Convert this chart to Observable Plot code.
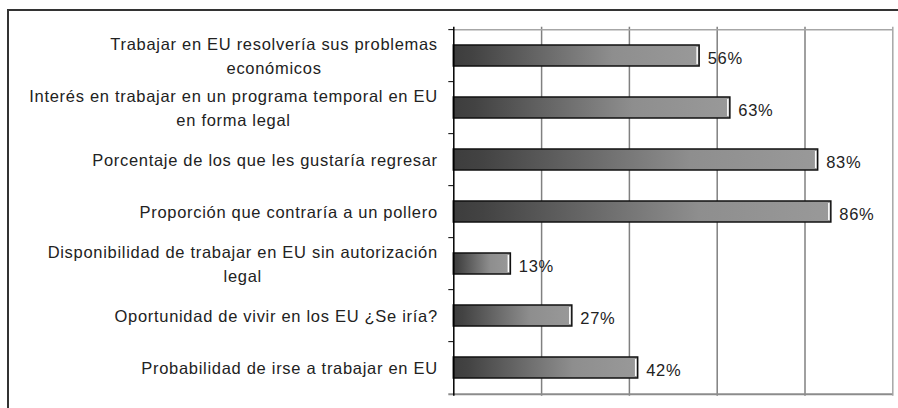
<!DOCTYPE html>
<html><head><meta charset="utf-8">
<script src="https://cdn.jsdelivr.net/npm/d3@7"></script>
<script src="https://cdn.jsdelivr.net/npm/@observablehq/plot@0.6"></script>
<style>
body{margin:0;background:#fff}
#wrap{position:relative;width:898px;height:408px;overflow:hidden;background:#fff}
#frame{position:absolute;left:7px;top:9px;width:2000px;height:2000px;border-top:2px solid #333;border-left:2px solid #333;pointer-events:none}
svg text{letter-spacing:0.7px}
</style></head><body><div id="wrap"><div id="frame"></div></div>
<script>
const categories = [
  "Trabajar en EU resolvería sus problemas\neconómicos",
  "Interés en trabajar en un programa temporal en EU\nen forma legal",
  "Porcentaje de los que les gustaría regresar",
  "Proporción que contraría a un pollero",
  "Disponibilidad de trabajar en EU sin autorización\nlegal",
  "Oportunidad de vivir en los EU ¿Se iría?",
  "Probabilidad de irse a trabajar en EU"
];
const values = [56, 63, 83, 86, 13, 27, 42];
const valueLabels = ["56%", "63%", "83%", "86%", "13%", "27%", "42%"];
const xGrid = [20, 40, 60, 80];
const xMax = 100;

const W = 898, H = 408, mT = 26.7, mB = 12.3, mL = 453.3, mR = 5.7;
const step = (H - mT - mB) / categories.length;
const data = categories.map((c, i) => ({category: c, value: values[i], label: valueLabels[i]}));
const font = "'Liberation Sans', Arial, sans-serif";

const chart = Plot.plot({
  width: W, height: H,
  marginTop: mT, marginBottom: mB, marginLeft: mL, marginRight: mR,
  x: {domain: [0, xMax], axis: null},
  y: {domain: categories, axis: null, paddingInner: 0.6, paddingOuter: 0.3},
  style: {background: "transparent", fontFamily: font, fontSize: "16.5px", color: "#222"},
  marks: [
    Plot.ruleX(xGrid, {stroke: "#808080", strokeWidth: 1.5}),
    Plot.ruleX([xMax], {stroke: "#a6a6a6", strokeWidth: 1.5}),
    Plot.ruleY([categories[0]], {y: d => d, x1: 0, x2: xMax, dy: -step / 2, stroke: "#a6a6a6", strokeWidth: 1.5}),
    Plot.barX(data, {x: "value", y: "category", fill: "url(#barGrad)", stroke: "#111", strokeWidth: 1.5}),
    Plot.tickX(data, {x: "value", y: "category", stroke: "#fff", strokeWidth: 1.5, dx: -2.5, inset: 2}),
    Plot.ruleY([categories[categories.length - 1]], {y: d => d, x1: 0, x2: xMax, insetLeft: -5, dy: step / 2, stroke: "#8c8c8c", strokeWidth: 2}),
    Plot.ruleX([0], {stroke: "#000", strokeWidth: 1.5}),
    Plot.ruleY(categories, {y: d => d, x1: 0, x2: 0, insetLeft: -5, dy: -step / 2, stroke: "#000", strokeWidth: 1}),
    Plot.text(data, {x: 0, y: "category", text: "category", textAnchor: "middle", dx: -16, dy: -2, lineHeight: 1.5, fontSize: 16.5, fill: "#222"}),
    Plot.text(data, {x: "value", y: "category", text: "label", textAnchor: "start", dx: 8, dy: 3, fontSize: 16.5, fill: "#222"})
  ]
});

const defs = d3.create("svg:defs");
const grad = defs.append("linearGradient").attr("id", "barGrad")
  .attr("x1", 0).attr("x2", 1).attr("y1", 0).attr("y2", 0);
[[0, "#3d3d3d"], [0.08, "#434343"], [0.65, "#8e8e8e"], [1, "#999999"]].forEach(([o, c]) =>
  grad.append("stop").attr("offset", o).attr("stop-color", c));
chart.prepend(defs.node());

const wrap = document.getElementById("wrap");
wrap.insertBefore(chart, wrap.firstChild);

const textGroups = chart.querySelectorAll('g[aria-label="text"]');
if (textGroups.length) {
  textGroups[0].querySelectorAll("text").forEach(t => {
    const w = t.getBBox().width;
    t.setAttribute("transform", (t.getAttribute("transform") || "") + ` translate(${-w / 2},0)`);
  });
}
</script>
</body></html>
